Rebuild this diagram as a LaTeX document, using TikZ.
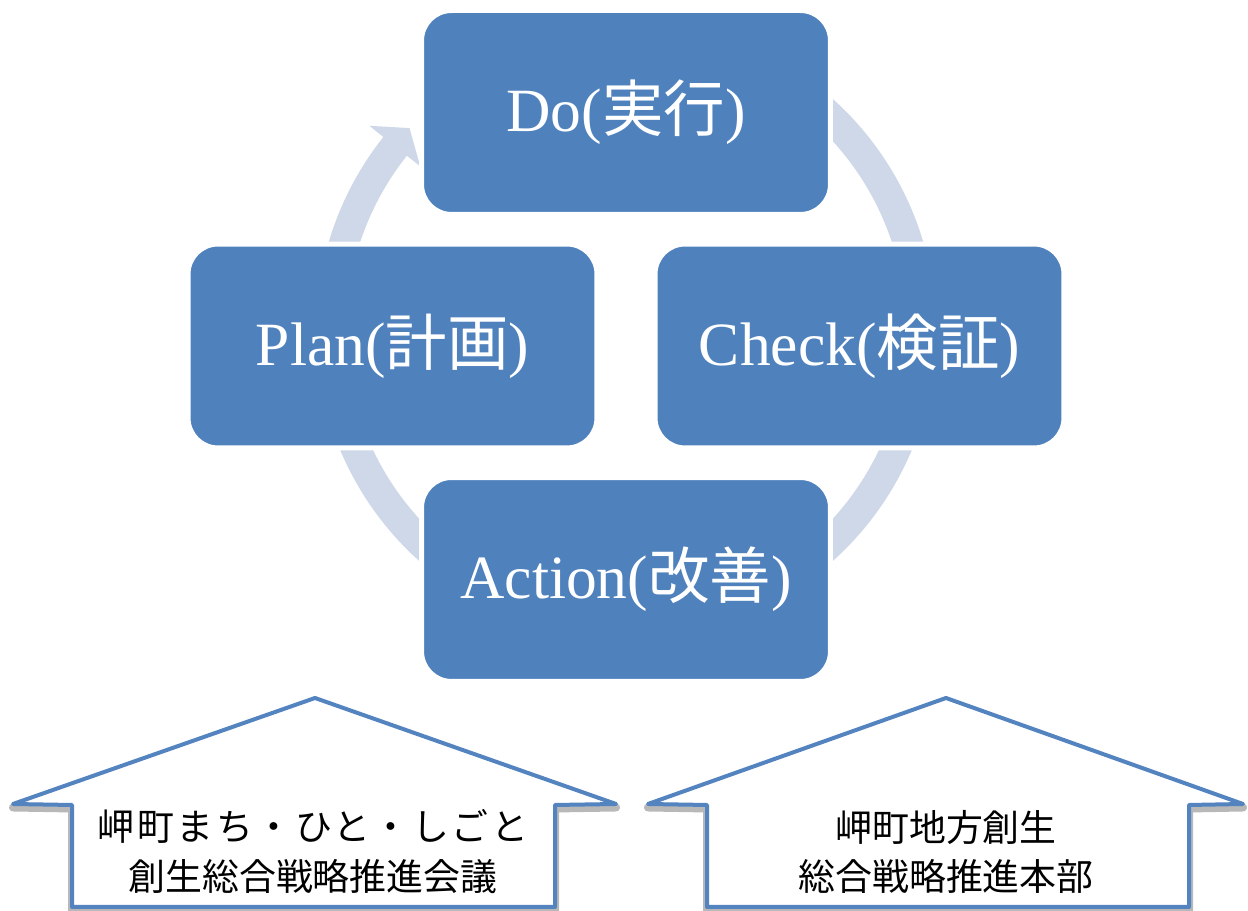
\documentclass[tikz,border=0pt]{standalone}
\usepackage{fontspec}
\setmainfont{Liberation Serif}
\newfontfamily\jp{Noto Sans CJK JP}
\newfontfamily\jpwide[LetterSpace=7]{Noto Sans CJK JP}
\usetikzlibrary{calc}
\definecolor{boxblue}{RGB}{79,129,189}
\definecolor{ringc}{RGB}{206,216,232}
\definecolor{houseblue}{RGB}{84,132,192}
\tikzset{
  pbox/.style={rectangle, rounded corners=0.6cm, fill=boxblue, draw=white, line width=0.1cm,
    minimum width=8.18cm, minimum height=4.08cm, inner sep=0pt, text=white,
    font=\fontsize{35pt}{40pt}\selectfont},
  house/.style={draw=houseblue, fill=white, line width=0.08cm, line join=round},
  hshadow/.style={draw=black!28, line width=0.16cm, line join=round},
  htext/.style={align=center, font=\jp\fontsize{21pt}{28.4pt}\selectfont, text=black},
  ring/.style={fill=ringc}
}
\begin{document}
\begin{tikzpicture}[x=0.02cm,y=0.02cm]
\useasboundingbox (0,0) rectangle (1248,911);
\fill[white] (0,0) rectangle (1248,911);
\coordinate (C) at (626,581);
% cycle arrows
\begin{scope}[shift={(C)}]
\fill[ring] (180:310) arc[start angle=180,end angle=141.5,radius=310] -- (141.5:328) -- (137:296)
  -- (141.5:263) -- (141.5:280) arc[start angle=141.5,end angle=180,radius=280] -- cycle;
\fill[ring] (62:310) arc[start angle=62,end angle=0,radius=310] -- (0:280)
  arc[start angle=0,end angle=62,radius=280] -- cycle;
\fill[ring] (0:310) arc[start angle=0,end angle=-62,radius=310] -- (-62:280)
  arc[start angle=-62,end angle=0,radius=280] -- cycle;
\fill[ring] (-118:310) arc[start angle=-118,end angle=-180,radius=310] -- (-180:280)
  arc[start angle=-180,end angle=-118,radius=280] -- cycle;
\end{scope}
% boxes
\node[pbox] (do) at (626,798.5) {Do({\jp 実行})};
\node[pbox] (plan) at (392.5,565) {Plan({\jp 計画})};
\node[pbox] (check) at (859.5,565) {Check({\jp 検証})};
\node[pbox] (action) at (626,331.5) {Action({\jp 改善})};
% houses
\draw[hshadow, yshift=-0.07cm] (72,4) -- (72,106) -- (13,107) -- (315,213) -- (616,107) -- (555,106) -- (555,4) -- cycle;
\draw[house] (72,4) -- (72,106) -- (13,107) -- (315,213) -- (616,107) -- (555,106) -- (555,4) -- cycle;
\draw[hshadow, yshift=-0.07cm] (707,4) -- (707,106) -- (648,107) -- (946,213) -- (1243,107) -- (1189,106) -- (1189,4) -- cycle;
\draw[house] (707,4) -- (707,106) -- (648,107) -- (946,213) -- (1243,107) -- (1189,106) -- (1189,4) -- cycle;
\node[htext] (lt) at (313,59) {{\jpwide 岬町まち・ひと・しごと}\\創生総合戦略推進会議};
\node[htext] (rt) at (946,59) {岬町地方創生\\総合戦略推進本部};
\end{tikzpicture}
\end{document}
